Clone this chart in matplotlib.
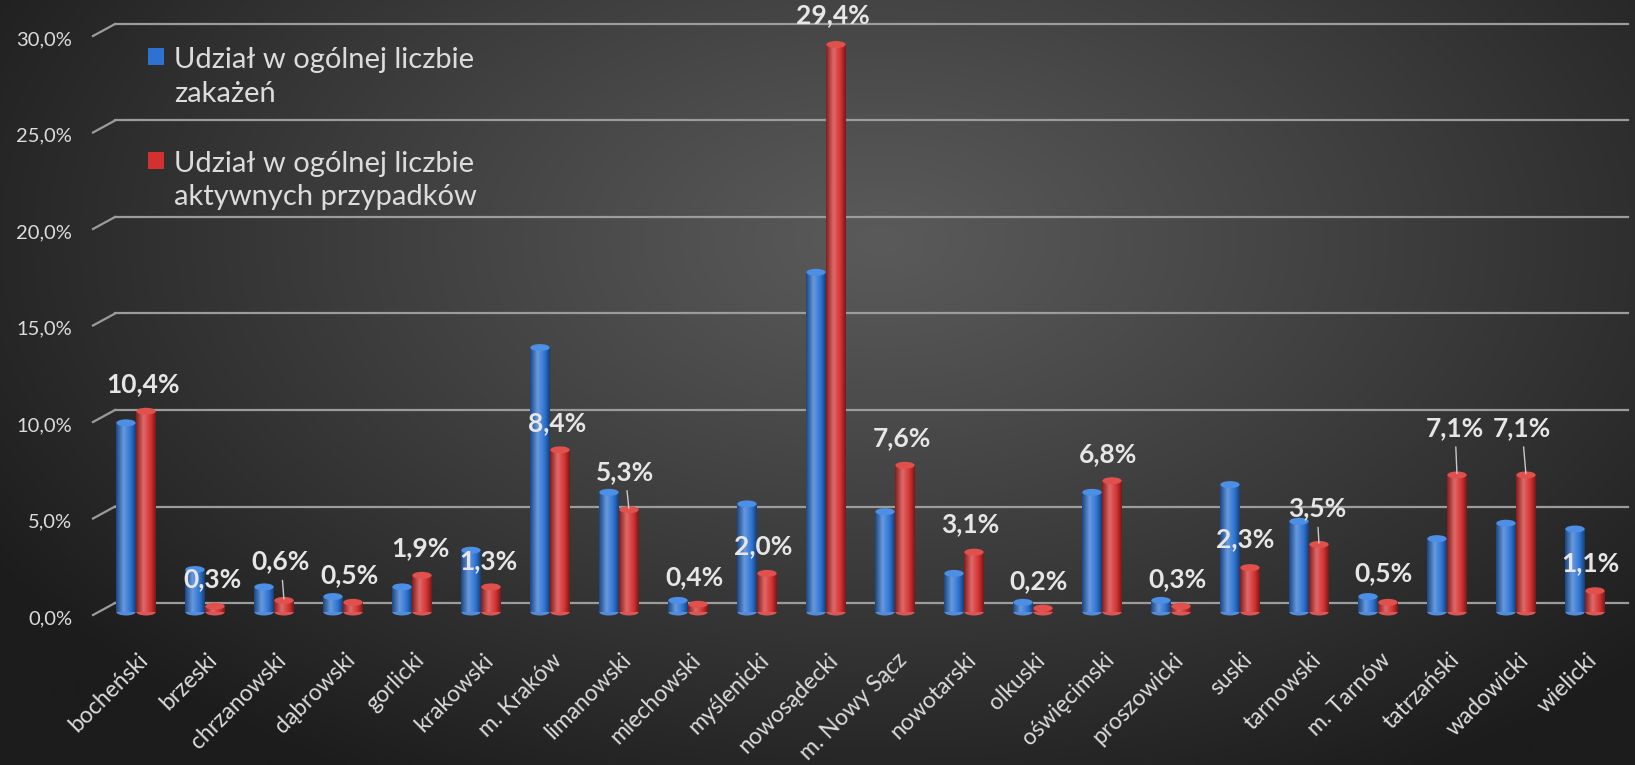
import numpy as np
import matplotlib
matplotlib.use("Agg")
import matplotlib.pyplot as plt
from matplotlib.colors import LinearSegmentedColormap, to_rgb
from matplotlib.patches import Rectangle, Ellipse
from matplotlib.transforms import ScaledTranslation

# ---------------- data ----------------
categories = ['bocheński', 'brzeski', 'chrzanowski', 'dąbrowski', 'gorlicki',
              'krakowski', 'm. Kraków', 'limanowski', 'miechowski', 'myślenicki',
              'nowosądecki', 'm. Nowy Sącz', 'nowotarski', 'olkuski', 'oświęcimski',
              'proszowicki', 'suski', 'tarnowski', 'm. Tarnów', 'tatrzański',
              'wadowicki', 'wielicki']
share_infections = [9.8, 2.2, 1.3, 0.8, 1.3, 3.2, 13.7, 6.2, 0.6, 5.6, 17.6,
                    5.2, 2.0, 0.5, 6.2, 0.6, 6.6, 4.7, 0.8, 3.8, 4.6, 4.3]
share_active = [10.4, 0.3, 0.6, 0.5, 1.9, 1.3, 8.4, 5.3, 0.4, 2.0, 29.4,
                7.6, 3.1, 0.2, 6.8, 0.3, 2.3, 3.5, 0.5, 7.1, 7.1, 1.1]
series_names = ['Udział w ogólnej liczbie\nzakażeń',
                'Udział w ogólnej liczbie\naktywnych przypadków']
y_ticks = [0, 5, 10, 15, 20, 25, 30]
y_tick_labels = ['0,0%', '5,0%', '10,0%', '15,0%', '20,0%', '25,0%', '30,0%']

# ---------------- style / layout ----------------
W, H = 1635, 765
FONT = ['Lato', 'DejaVu Sans']
plt.rcParams['font.family'] = FONT
TXT = '#dcdcdc'
GRID = '#9c9c9c'
PX_PER_UNIT = 19.3
# label offsets (pixels above red bar top) and whether a leader line is drawn
label_dy = [27, 27, 39, 27, 27, 26, 27, 38, 27, 27, 29, 27, 28, 27, 27, 27, 28, 36, 29, 47, 47, 28]
label_dx = [-3, -3, -3, -4, -2, -3, -3, -4, -4, -4, -3, -3, -4, -4, -4, -4, -5, -2, -5, -2, -4, -5]
leader = [False, False, True, False, False, False, False, True, False, False, False,
          False, False, False, False, False, False, True, False, True, True, False]

fig = plt.figure(figsize=(W / 100, H / 100), dpi=100)

# background radial gradient
bg = fig.add_axes([0, 0, 1, 1], zorder=-10)
yy, xx = np.mgrid[0:H:2, 0:W:2]
r = np.sqrt(((xx - 880) / 1050.0) ** 2 + ((yy - 240) / 620.0) ** 2)
r = np.clip(r, 0, 1) ** 1.1
c_center, c_edge = 0x5a / 255, 0x1c / 255
g = c_center - (c_center - c_edge) * r
bg.imshow(np.dstack([g, g, g]), extent=[0, W, H, 0], aspect='auto', interpolation='bilinear')
bg.axis('off')

ax = fig.add_axes([101.5 / W, 1 - 622 / H, 1518 / W, 612 / H])
ax.patch.set_alpha(0)
for s in ax.spines.values():
    s.set_visible(False)

x = np.arange(len(categories))
off, bw = 0.145, 0.28

# gridlines with 3D slant
g_off = 9 / PX_PER_UNIT
for t in y_ticks:
    gy = t + g_off
    ax.plot([-0.304, 21.62], [gy, gy], color=GRID, lw=1.6, clip_on=False, zorder=1)
    ax.plot([-0.623, -0.304], [gy - 12 / PX_PER_UNIT, gy], color=GRID, lw=1.6,
            clip_on=False, zorder=1)


def grad_cmap(base):
    b = np.array(to_rgb(base))
    dark = b * 0.62
    light = np.clip(b + (1 - b) * 0.28, 0, 1)
    return LinearSegmentedColormap.from_list('g', [(0, dark), (0.38, light), (0.75, b), (1, b * 0.55)])


def draw_series(xpos, vals, base, top_col):
    bars = ax.bar(xpos, vals, width=bw, color=base, zorder=3, linewidth=0)
    cm = grad_cmap(base)
    grad = cm(np.linspace(0, 1, 64))[np.newaxis, :, :3]
    for p, v in zip(bars.patches, vals):
        x0 = p.get_x()
        im = ax.imshow(grad, extent=[x0, x0 + bw, -6 / PX_PER_UNIT, v], aspect='auto',
                       zorder=3.1, interpolation='bilinear')
        im.set_clip_path(p)
        cap = Ellipse((x0 + bw / 2, v), bw, 7 / PX_PER_UNIT, facecolor=top_col,
                      edgecolor='none', zorder=3.2)
        ax.add_patch(cap)
        bot = Ellipse((x0 + bw / 2, 0), bw, 7 / PX_PER_UNIT, facecolor=cm(0.5),
                      edgecolor='none', zorder=3.0)
        ax.add_patch(bot)
    return bars


b1 = draw_series(x - off, share_infections, '#2d72d2', '#4c8fe4')
b2 = draw_series(x + off, share_active, '#d3302f', '#e0504c')

# data labels on the red series
for i, v in enumerate(share_active):
    lab = f'{v:.1f}'.replace('.', ',') + '%'
    kw = {}
    if leader[i]:
        kw['arrowprops'] = dict(arrowstyle='-', color='#c8c8c8', lw=1.0,
                                shrinkA=3, shrinkB=1)
    ax.annotate(lab, xy=(x[i] + off, v), xytext=(label_dx[i], label_dy[i]),
                textcoords='offset pixels', ha='center', va='center',
                fontsize=19, fontweight='bold', color='#e6e6e6', zorder=6, **kw)

ax.set_xlim(-0.5, 21.5)
ax.set_ylim(-10 / PX_PER_UNIT, 602 / PX_PER_UNIT)

# y ticks
ax.set_yticks([t + g_off - 14 / PX_PER_UNIT for t in y_ticks])
ax.set_yticklabels(y_tick_labels, fontsize=14.5, color=TXT)
ax.tick_params(axis='y', length=0, pad=21)

# x ticks
ax.set_xticks(x)
ax.set_xticklabels(categories, rotation=45, ha='right', rotation_mode='anchor',
                   va='center', fontsize=16.5, color=TXT)
ax.tick_params(axis='x', length=0, pad=25)
shift = ScaledTranslation(9 / 100, 0, fig.dpi_scale_trans)
for lbl in ax.get_xticklabels():
    lbl.set_transform(lbl.get_transform() + shift)

# legend (drawn manually in figure pixels)
def fx(px):
    return px / W


def fy(py):
    return 1 - py / H


for (col, ytop, ytxt), name in zip([('#2d72d2', 48, 77), ('#d3302f', 152, 180.5)], series_names):
    fig.patches.append(Rectangle((fx(148), fy(ytop + 17)), 16 / W, 17 / H,
                                 transform=fig.transFigure, facecolor=col,
                                 edgecolor='none', zorder=5))
    fig.text(fx(174), fy(ytxt), name, ha='left', va='center', fontsize=21,
             color=TXT, linespacing=1.37)

fig.savefig('out.png', dpi=100)
